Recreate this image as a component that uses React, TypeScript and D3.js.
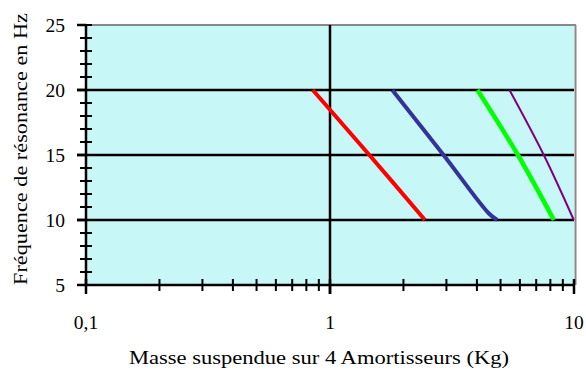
import React from "react";
import * as d3 from "d3";

const W = 586;
const H = 381;

const yTicks = [5, 10, 15, 20, 25];
const yGrid = [10, 15, 20];
const xTickLabels = ["0,1", "1", "10"];
const xMajor = [0.1, 1, 10];

const redMass = [0.85, 1.45, 2.45];
const redFreq = [20, 15, 10];
const blueMass = [1.8, 2.92, 4.48, 4.85];
const blueFreq = [20, 15, 10.5, 10];
const greenMass = [4.02, 5.89, 8.27];
const greenFreq = [20, 15, 10];
const purpleMass = [5.44, 7.52, 9.98];
const purpleFreq = [20, 15, 10];

const seriesList = [
  { name: "rouge", mass: redMass, freq: redFreq, color: "#FF0000", width: 4 },
  { name: "bleu", mass: blueMass, freq: blueFreq, color: "#333399", width: 4 },
  { name: "vert", mass: greenMass, freq: greenFreq, color: "#00FF00", width: 4.5 },
  { name: "violet", mass: purpleMass, freq: purpleFreq, color: "#800080", width: 2 },
];

const left = 86;
const right = 574;
const top = 25;
const bottom = 285;

export default function App() {
  const x = d3.scaleLog().domain([0.1, 10]).range([left, right]);
  const y = d3.scaleLinear().domain([5, 25]).range([bottom, top]);

  const xMinor: number[] = [];
  for (const dec of [0.1, 1]) for (let k = 2; k <= 9; k++) xMinor.push(dec * k);
  const yMinor = d3.range(5, 26, 1);

  const line = d3
    .line<[number, number]>()
    .x((d) => x(d[0]))
    .y((d) => y(d[1]))
    .curve(d3.curveCatmullRom.alpha(0.5));

  const font = "'Liberation Serif', 'Times New Roman', serif";

  return (
    <svg
      width={W}
      height={H}
      style={{ position: "absolute", left: 0, top: 0, background: "#fff" }}
    >
      <rect x={left} y={top} width={right - left} height={bottom - top} fill="#C8F7F7" />
      <line x1={left} x2={right + 2} y1={top} y2={top} stroke="#888" strokeWidth={2} />
      <line x1={right + 1.5} x2={right + 1.5} y1={top} y2={bottom} stroke="#888" strokeWidth={2} />
      {yGrid.map((v) => (
        <line key={"g" + v} x1={left - 9} x2={right} y1={y(v)} y2={y(v)} stroke="#000" strokeWidth={2.5} />
      ))}
      <line x1={x(1)} x2={x(1)} y1={top} y2={bottom + 9} stroke="#000" strokeWidth={2.5} />
      {seriesList.map((s) => (
        <path
          key={s.name}
          d={line(s.mass.map((m, i) => [m, s.freq[i]] as [number, number])) || ""}
          fill="none"
          stroke={s.color}
          strokeWidth={s.width}
          strokeLinecap="butt"
        />
      ))}
      <line x1={left} x2={left} y1={top - 1} y2={bottom + 1} stroke="#000" strokeWidth={2.5} />
      {yMinor.map((v) => (
        <line key={"ym" + v} x1={left - 6} x2={left + 6} y1={y(v)} y2={y(v)} stroke="#000" strokeWidth={2} />
      ))}
      {yTicks.map((v) => (
        <line key={"yM" + v} x1={left - 9} x2={left} y1={y(v)} y2={y(v)} stroke="#000" strokeWidth={2.5} />
      ))}
      <line x1={left} x2={right + 1} y1={bottom} y2={bottom} stroke="#000" strokeWidth={2.5} />
      {xMinor.map((v, i) => (
        <line key={"xm" + i} x1={x(v)} x2={x(v)} y1={bottom - 6} y2={bottom + 6} stroke="#000" strokeWidth={2} />
      ))}
      {xMajor.map((v) => (
        <line key={"xM" + v} x1={x(v)} x2={x(v)} y1={bottom - 6} y2={bottom + 9} stroke="#000" strokeWidth={2.5} />
      ))}
      {yTicks.map((v) => (
        <text key={"yl" + v} x={65} y={y(v) + 6.7} textAnchor="end" fontFamily={font} fontSize={19.5} fill="#000">
          {v}
        </text>
      ))}
      {xMajor.map((v, i) => (
        <text key={"xl" + v} x={x(v)} y={329} textAnchor="middle" fontFamily={font} fontSize={19.5} fill="#000">
          {xTickLabels[i]}
        </text>
      ))}
      <text
        x={319}
        y={364}
        textAnchor="middle"
        fontFamily={font}
        fontSize={19.5}
        textLength={380}
        lengthAdjust="spacingAndGlyphs"
        fill="#000"
      >
        Masse suspendue sur 4 Amortisseurs (Kg)
      </text>
      <text
        transform={`translate(27,149) rotate(-90)`}
        x={0}
        y={0}
        textAnchor="middle"
        fontFamily={font}
        fontSize={19.5}
        textLength={272}
        lengthAdjust="spacingAndGlyphs"
        fill="#000"
      >
        Fréquence de résonance en Hz
      </text>
    </svg>
  );
}
